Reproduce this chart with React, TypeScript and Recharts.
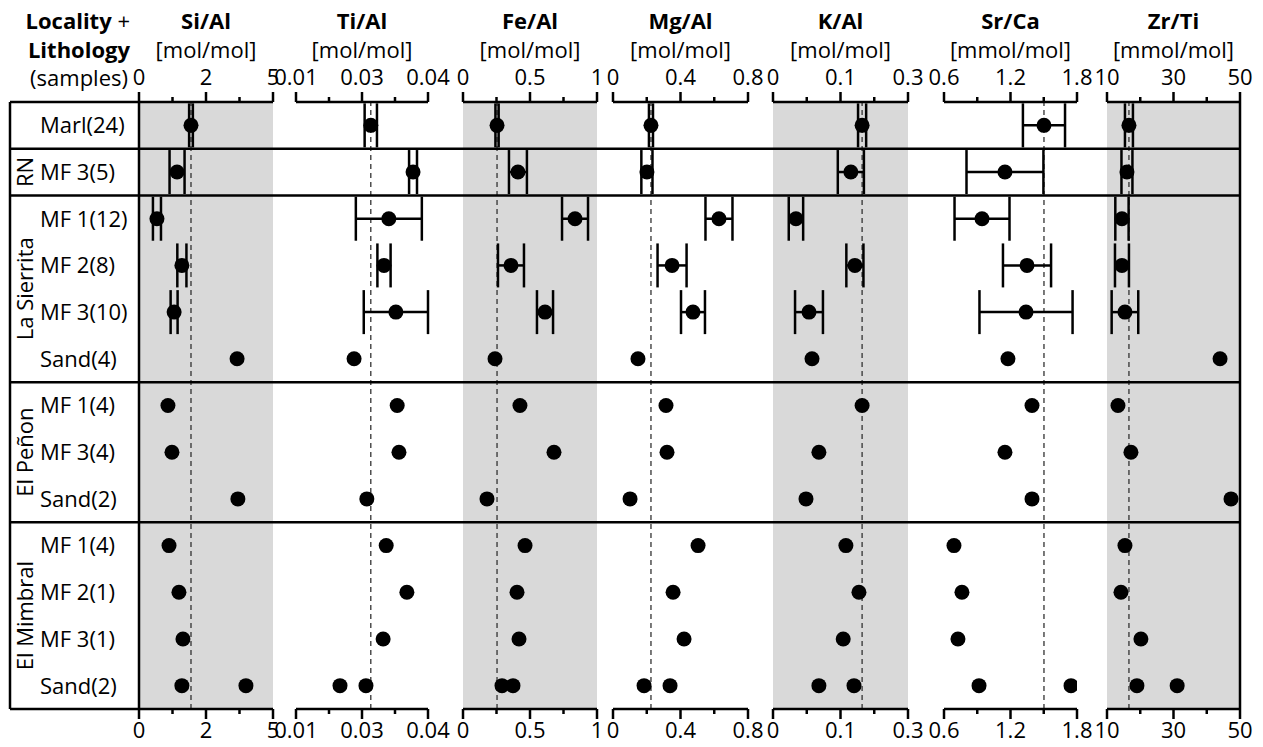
import React from "react";
import {
  ScatterChart,
  Scatter,
  XAxis,
  YAxis,
  ErrorBar,
  ReferenceLine,
  ReferenceArea,
} from "recharts";

// rows, top to bottom
const rowLabels = [
  "Marl(24)",
  "MF 3(5)",
  "MF 1(12)",
  "MF 2(8)",
  "MF 3(10)",
  "Sand(4)",
  "MF 1(4)",
  "MF 3(4)",
  "Sand(2)",
  "MF 1(4)",
  "MF 2(1)",
  "MF 3(1)",
  "Sand(2)",
];
const groupNames = ["RN", "La Sierrita", "El Peñon", "El Mimbral"];
const groupCenters = [1.5, 4, 7.5, 11];
const groupBreaks = [1, 2, 6, 9];

// means per row (first sample for El Mimbral Sand(2)), errors only for the first five rows
const siAl = [1.94, 1.42, 0.67, 1.6, 1.31, 3.66, 1.08, 1.23, 3.69, 1.12, 1.49, 1.64, 1.6];
const siAlErr = [0.07, 0.28, 0.15, 0.17, 0.13];
const tiAl = [0.027, 0.0366, 0.0311, 0.03, 0.0327, 0.0232, 0.033, 0.0334, 0.0261, 0.0305, 0.0352, 0.0298, 0.02];
const tiAlErr = [0.0014, 0.0009, 0.0075, 0.0015, 0.0073];
const feAl = [0.254, 0.41, 0.836, 0.358, 0.612, 0.239, 0.425, 0.679, 0.179, 0.463, 0.403, 0.418, 0.291];
const feAlErr = [0.012, 0.067, 0.097, 0.097, 0.06];
const mgAl = [0.225, 0.201, 0.628, 0.35, 0.474, 0.148, 0.314, 0.32, 0.101, 0.504, 0.356, 0.421, 0.184];
const mgAlErr = [0.012, 0.033, 0.08, 0.086, 0.071];
const kAl = [0.198, 0.173, 0.051, 0.182, 0.08, 0.0867, 0.198, 0.102, 0.0733, 0.162, 0.191, 0.156, 0.102];
const kAlErr = [0.009, 0.029, 0.016, 0.019, 0.031];
const srCa = [1.502, 1.15, 0.943, 1.349, 1.34, 1.177, 1.394, 1.15, 1.394, 0.69, 0.762, 0.726, 0.916];
const srCaErr = [0.19, 0.347, 0.248, 0.217, 0.42];
const zrTi = [16.6, 16.0, 14.5, 14.5, 15.4, 44.0, 13.3, 17.2, 47.3, 15.4, 14.2, 20.2, 19.0];
const zrTiErr = [1.2, 1.65, 2.0, 2.1, 4.0];
// second El Mimbral Sand(2) sample, one value per panel
const mimbralSandB = [3.99, 0.0259, 0.373, 0.338, 0.18, 1.746, 31.1];

const titles = ["Si/Al", "Ti/Al", "Fe/Al", "Mg/Al", "K/Al", "Sr/Ca", "Zr/Ti"];
const units = ["[mol/mol]", "[mol/mol]", "[mol/mol]", "[mol/mol]", "[mol/mol]", "[mmol/mol]", "[mmol/mol]"];
const domains: [number, number][] = [
  [0, 5],
  [0.01, 0.04],
  [0, 1],
  [0, 0.8],
  [0, 0.3],
  [0.6, 1.8],
  [10, 50],
];
const tickLabels = [
  ["0", "2", "5"],
  ["0.01", "0.03", "0.04"],
  ["0", "0.5", "1"],
  ["0", "0.4", "0.8"],
  ["0", "0.1", "0.3"],
  ["0.6", "1.2", "1.8"],
  ["10", "30", "50"],
];

const means = [siAl, tiAl, feAl, mgAl, kAl, srCa, zrTi];
const errs = [siAlErr, tiAlErr, feAlErr, mgAlErr, kAlErr, srCaErr, zrTiErr];

// layout
const W = 1263;
const H = 747;
const PLOT_TOP = 102;
const PLOT_BOTTOM = 709;
const AXIS_H = 34;
const TICK = 10;
const TM = 4;
const PAD = 40;
const panelLeft = [139, 296, 463, 613, 773, 944, 1107];
const panelWidth = [134, 132, 134, 135, 135, 133, 133];
const shaded = [true, false, true, false, true, false, true];
const GRAY = "#d9d9d9";
const LINE_W = 2.5;
const FONT = '"Open Sans", sans-serif';
const GROUP_W = 23;
const ROWS_W = panelLeft[0] - 10 - GROUP_W;
const ROW_TEXT_X = 40;

const rowTicks = rowLabels.map((_, i) => i + 0.5);

function AxisTick(props: any) {
  const { x, y, index, side, labels } = props;
  const down = side === "bottom";
  const axisY = down ? y - TICK - TM : y + TICK + TM;
  const major = index % 2 === 0;
  const len = major ? 10 : 5;
  return (
    <g>
      <line
        x1={x}
        x2={x}
        y1={axisY}
        y2={down ? axisY + len : axisY - len}
        stroke="#000"
        strokeWidth={LINE_W}
      />
      {major && (
        <text
          x={x}
          y={down ? axisY + 29 : axisY - 17}
          textAnchor="middle"
          fontSize={22}
          fontFamily={FONT}
          fill="#000"
        >
          {labels[index / 2]}
        </text>
      )}
    </g>
  );
}

function RowTick(props: any) {
  const { x, y, index } = props;
  return (
    <text
      x={x}
      y={y}
      dy="0.36em"
      textAnchor="start"
      fontSize={22}
      fontFamily={FONT}
      fill="#000"
    >
      {rowLabels[index]}
    </text>
  );
}

function GroupTick(props: any) {
  const { x, y, index } = props;
  return (
    <text
      x={x}
      y={y}
      transform={`rotate(-90 ${x} ${y})`}
      textAnchor="middle"
      fontSize={22}
      fontFamily={FONT}
      fill="#000"
    >
      {groupNames[index]}
    </text>
  );
}

const Dot = (p: any) => <circle cx={p.cx} cy={p.cy} r={7.5} fill="#000" />;

function Panel({ i }: { i: number }) {
  const [lo, hi] = domains[i];
  const ticks = [0, 1, 2, 3, 4].map((k) => lo + ((hi - lo) * k) / 4);
  const nErr = errs[i].length;
  const withErr = errs[i].map((e, r) => ({ x: means[i][r], y: r + 0.5, err: e }));
  const plain = means[i].slice(nErr).map((v, k) => ({ x: v, y: nErr + k + 0.5 }));
  plain.push({ x: mimbralSandB[i], y: 12.5 });

  const first = i === 0;
  const left = first ? 0 : panelLeft[i] - PAD;
  const mLeft = first ? 10 : PAD;
  const width = first ? panelLeft[0] + panelWidth[0] + PAD : panelWidth[i] + 2 * PAD;

  const xProps = {
    type: "number" as const,
    dataKey: "x",
    domain: [lo, hi],
    ticks,
    interval: 0 as const,
    height: AXIS_H,
    tickSize: TICK,
    tickMargin: TM,
    tickLine: false,
    allowDataOverflow: true,
    axisLine: { stroke: "#000", strokeWidth: LINE_W },
  };

  return (
    <div style={{ position: "absolute", left, top: 0 }}>
      <ScatterChart
        width={width}
        height={H}
        margin={{
          top: PLOT_TOP - AXIS_H,
          bottom: H - PLOT_BOTTOM - AXIS_H,
          left: mLeft,
          right: PAD,
        }}
      >
        <XAxis
          xAxisId="t"
          orientation="top"
          {...xProps}
          tick={<AxisTick side="top" labels={tickLabels[i]} />}
        />
        <XAxis
          xAxisId="b"
          orientation="bottom"
          {...xProps}
          tick={<AxisTick side="bottom" labels={tickLabels[i]} />}
        />
        {first && (
          <YAxis
            yAxisId="zgroups"
            type="number"
            domain={[0, 13]}
            reversed
            allowDataOverflow
            ticks={groupCenters}
            interval={0}
            width={GROUP_W}
            tickSize={0}
            tickMargin={0}
            tickLine={false}
            axisLine={false}
            tick={<GroupTick />}
          />
        )}
        {first ? (
          <YAxis
            yAxisId="rows"
            type="number"
            dataKey="y"
            domain={[0, 13]}
            reversed
            allowDataOverflow
            ticks={rowTicks}
            interval={0}
            width={ROWS_W}
            tickSize={0}
            tickMargin={panelLeft[0] - ROW_TEXT_X}
            tickLine={false}
            axisLine={{ stroke: "#000", strokeWidth: LINE_W }}
            tick={<RowTick />}
          />
        ) : (
          <YAxis yAxisId="rows" type="number" dataKey="y" domain={[0, 13]} reversed allowDataOverflow hide />
        )}
        {shaded[i] && (
          <ReferenceArea
            xAxisId="b"
            yAxisId="rows"
            x1={lo}
            x2={hi}
            y1={0}
            y2={13}
            fill={GRAY}
            fillOpacity={1}
            stroke="none"
          />
        )}
        <ReferenceLine
          xAxisId="b"
          yAxisId="rows"
          x={means[i][0]}
          stroke="#333"
          strokeWidth={1.3}
          strokeDasharray="5 4"
        />
        <Scatter
          xAxisId="b"
          yAxisId="rows"
          data={withErr}
          shape={Dot}
          isAnimationActive={false}
        >
          <ErrorBar
            dataKey="err"
            direction="x"
            width={22}
            strokeWidth={LINE_W}
            stroke="#000"
            isAnimationActive={false}
          />
        </Scatter>
        <Scatter
          xAxisId="b"
          yAxisId="rows"
          data={plain}
          shape={Dot}
          isAnimationActive={false}
        />
      </ScatterChart>
    </div>
  );
}

const txt: React.CSSProperties = {
  position: "absolute",
  fontFamily: FONT,
  fontSize: 22,
  lineHeight: "24px",
  color: "#000",
  whiteSpace: "nowrap",
};

export default function App() {
  return (
    <div
      style={{
        position: "absolute",
        left: 0,
        top: 0,
        width: W,
        height: H,
        background: "#fff",
        fontFamily: FONT,
      }}
    >
      {/* header, left column */}
      <div style={{ ...txt, left: 0, width: 130, top: 8, textAlign: "right" }}>
        <b>Locality</b> +
      </div>
      <div style={{ ...txt, left: 0, width: 130, top: 37, textAlign: "right", fontWeight: 700 }}>
        Lithology
      </div>
      <div style={{ ...txt, left: 0, width: 128, top: 65, textAlign: "right" }}>(samples)</div>

      {titles.map((t, i) => (
        <React.Fragment key={t}>
          <div
            style={{ ...txt, left: panelLeft[i] - 20, width: panelWidth[i] + 40, top: 8, textAlign: "center", fontWeight: 700 }}
          >
            {t}
          </div>
          <div
            style={{ ...txt, left: panelLeft[i] - 20, width: panelWidth[i] + 40, top: 37, textAlign: "center" }}
          >
            {units[i]}
          </div>
        </React.Fragment>
      ))}

      {titles.map((t, i) => (
        <Panel key={t} i={i} />
      ))}

      {/* label box outline */}
      <div style={{ position: "absolute", left: 0, top: 0, pointerEvents: "none" }}>
        <ScatterChart
          width={panelLeft[0] + 20}
          height={H}
          margin={{ top: PLOT_TOP, bottom: H - PLOT_BOTTOM, left: 10, right: 20 }}
        >
          <XAxis type="number" dataKey="x" domain={[0, 1]} allowDataOverflow hide />
          <YAxis type="number" dataKey="y" domain={[0, 13]} reversed allowDataOverflow hide />
          <ReferenceLine y={0} stroke="#000" strokeWidth={LINE_W} />
          <ReferenceLine y={13} stroke="#000" strokeWidth={LINE_W} />
          <ReferenceLine x={0} stroke="#000" strokeWidth={LINE_W} />
        </ScatterChart>
      </div>

      {/* group separators across all panels + right border */}
      <div style={{ position: "absolute", left: 0, top: 0, pointerEvents: "none" }}>
        <ScatterChart
          width={W}
          height={H}
          margin={{ top: PLOT_TOP, bottom: H - PLOT_BOTTOM, left: 10, right: W - 1240 }}
        >
          <XAxis type="number" dataKey="x" domain={[0, 1]} allowDataOverflow hide />
          <YAxis type="number" dataKey="y" domain={[0, 13]} reversed allowDataOverflow hide />
          {groupBreaks.map((b) => (
            <ReferenceLine key={b} y={b} stroke="#000" strokeWidth={LINE_W} />
          ))}
          <ReferenceLine x={1} stroke="#000" strokeWidth={LINE_W} />
        </ScatterChart>
      </div>
    </div>
  );
}
